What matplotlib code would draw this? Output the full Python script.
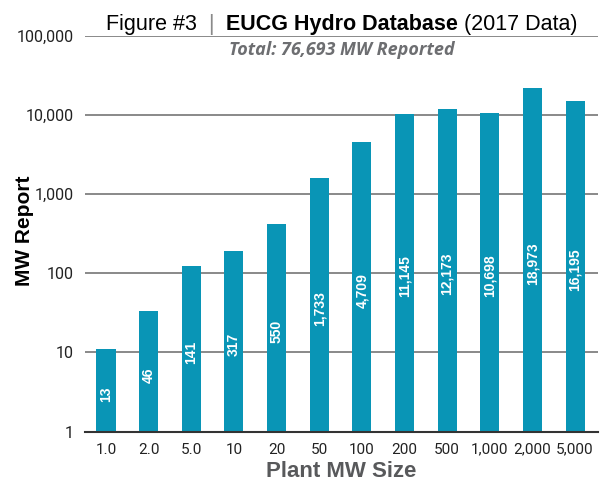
import numpy as np
import matplotlib
matplotlib.use('Agg')
import matplotlib.pyplot as plt

# plant size classes (MW) and MW reported per class
size_labels = ['1.0', '2.0', '5.0', '10', '20', '50', '100', '200', '500',
               '1,000', '2,000', '5,000']
bar_mw = [11, 33, 122, 194, 414, 1620, 4600, 10400, 12000, 10700, 22100, 15200]
reported_mw = [13, 46, 141, 317, 550, 1733, 4709, 11145, 12173, 10698, 18973, 16195]
total_mw = 76693
y_ticks = [1, 10, 100, 1000, 10000, 100000]

W, H = 608, 483
bar_color = '#0995b6'
grid_color = '#808080'

plt.rcParams['font.family'] = ['Liberation Sans', 'DejaVu Sans']

fig = plt.figure(figsize=(W / 100, H / 100), dpi=100)
ax = fig.add_axes([85 / W, (H - 431.5) / H, (598 - 85) / W, (431.5 - 36) / H])

x = np.arange(len(size_labels))
ax.set_yscale('log')
ax.set_ylim(1, 100000)
ax.set_xlim(-0.4925, 11.539)

for yv in y_ticks[1:]:
    ax.axhline(yv, color=grid_color, lw=1.3, zorder=1)
ax.axhline(1, color='#333333', lw=1.5, zorder=3, clip_on=False)

ax.bar(x, bar_mw, width=0.446, color=bar_color, zorder=2)

# value labels, rotated, in the middle of each bar (log middle)
for xi, h, v in zip(x, bar_mw, reported_mw):
    ax.text(xi, np.sqrt(h) * 0.9, '{:,}'.format(v), rotation=90, ha='center',
            va='center', color='white', fontsize=10, fontweight='bold', zorder=4)

for s in ax.spines.values():
    s.set_visible(False)
ax.set_yticks(y_ticks)
ax.set_yticklabels(['{:,}'.format(v) for v in y_ticks])
ax.yaxis.set_minor_locator(matplotlib.ticker.NullLocator())
ax.set_xticks(x)
ax.set_xticklabels(size_labels)
ax.tick_params(axis='y', length=0, pad=8, labelsize=11.5, labelcolor='#222222')
ax.tick_params(axis='x', length=0, pad=8, labelsize=11, labelcolor='#222222')
for lab in ax.get_xticklabels() + ax.get_yticklabels():
    lab.set_family(['Roboto', 'Liberation Sans'])

fig.text(24 / W, 1 - 231 / H, 'MW Report', rotation=90, fontsize=15,
         fontweight='bold', color='black', ha='center', va='center')
ax.set_xlabel('Plant MW Size', fontsize=16, fontweight='bold', color='#58595b',
              labelpad=3)

# title made of pieces with different weights, laid out on one baseline
pieces = [('Figure #3', 'normal', 'black', 15.5),
          ('  ', 'normal', 'black', 15.5),
          ('|', 'light', '#8a8a8a', 15.5),
          ('  ', 'normal', 'black', 15.5),
          ('EUCG Hydro Database', 'bold', 'black', 15.5),
          (' (2017 Data)', 'normal', 'black', 15.5)]
renderer = fig.canvas.get_renderer()
texts = []
for s, wgt, col, fs in pieces:
    t = fig.text(0, 1 - 30 / H, s, fontsize=fs, fontweight=wgt, color=col,
                 ha='left', va='baseline')
    texts.append(t)
widths = [t.get_window_extent(renderer).width for t in texts]
start = 341.5 - sum(widths) / 2
for t, w in zip(texts, widths):
    t.set_x(start / W)
    start += w

fig.text(341.5 / W, 1 - 55 / H, 'Total: {:,} MW Reported'.format(total_mw),
         fontsize=13, fontweight='bold', style='italic', color='#6d6e71',
         family='Open Sans', ha='center', va='baseline')

fig.savefig('out.png', dpi=100)
